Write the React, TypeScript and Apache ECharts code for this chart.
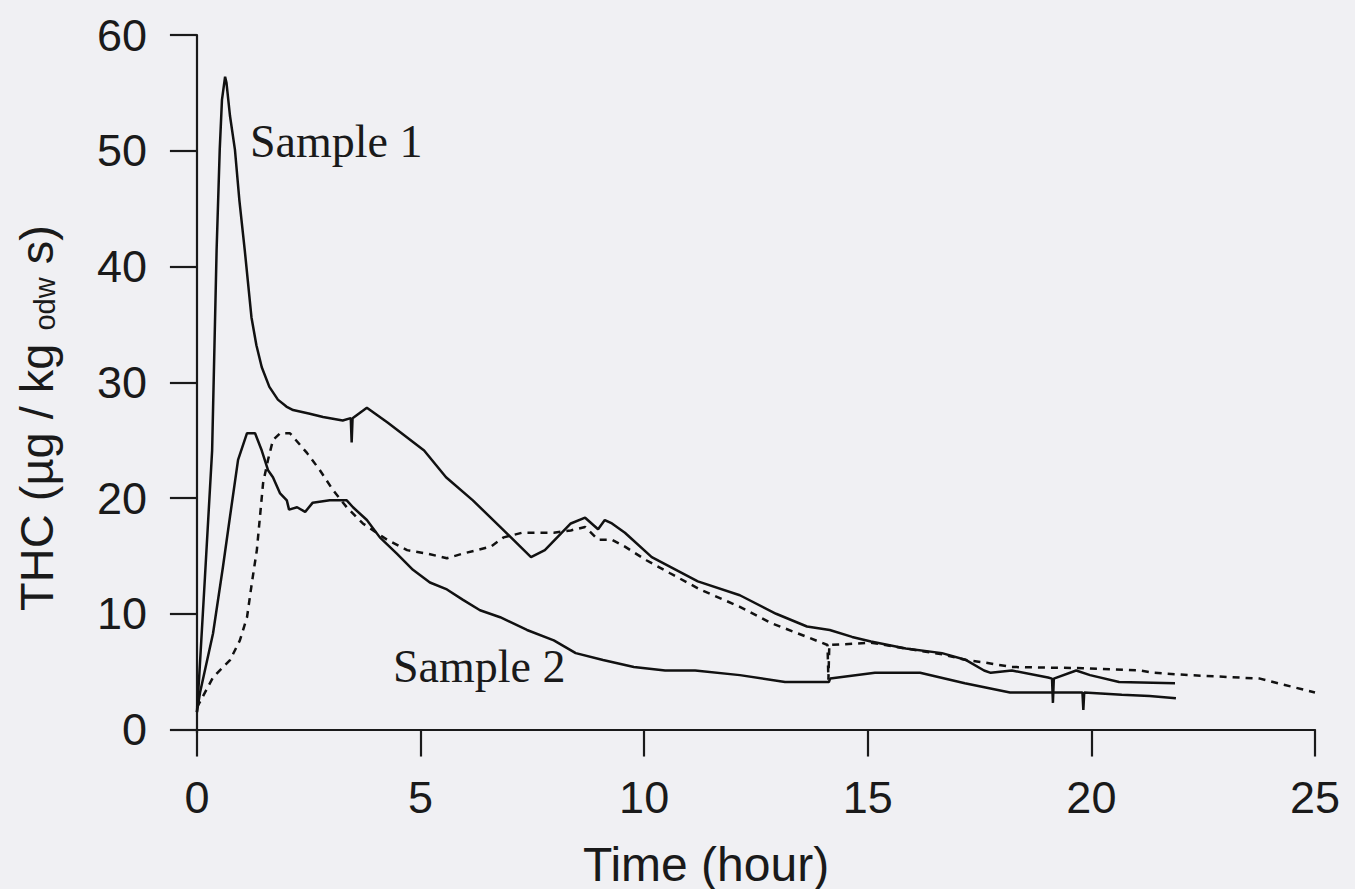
import React, { useEffect, useRef } from "react";
import * as echarts from "echarts";

// ---- Data ----
const xTicks = [0, 5, 10, 15, 20, 25];
const yTicks = [0, 10, 20, 30, 40, 50, 60];

// Sample 1 (solid, upper curve)
const sample1Hours = [
  0, 0.05, 0.18, 0.34, 0.44, 0.51, 0.56, 0.63, 0.66, 0.74, 0.85, 0.95, 1.07, 1.22,
  1.33, 1.45, 1.62, 1.81, 2.0, 2.15, 2.5, 2.82, 3.26, 3.44, 3.46, 3.48, 3.8, 4.27,
  5.08, 5.57, 6.17, 6.78, 7.47, 7.78, 8.36, 8.68, 8.97, 9.12, 9.28, 9.57, 10.17,
  11.2, 12.14, 12.95, 13.64, 14.15, 14.65, 15.07, 15.85, 16.66, 17.2, 17.6, 17.75,
  18.22, 19.03, 19.12, 19.14, 19.16, 19.66, 19.97, 20.62, 21.87,
];
const sample1Thc = [
  1.5, 4.5, 13.2, 24.1, 41.4, 50.1, 54.4, 56.4, 55.9, 53.0, 50.1, 45.7, 41.4, 35.6,
  33.2, 31.3, 29.6, 28.5, 27.9, 27.6, 27.3, 27.0, 26.7, 26.9, 24.8, 26.9, 27.8, 26.5,
  24.1, 21.8, 19.8, 17.5, 14.9, 15.5, 17.8, 18.3, 17.3, 18.1, 17.8, 17.0, 14.9,
  12.8, 11.6, 10.0, 8.9, 8.6, 8.0, 7.6, 7.0, 6.6, 6.0, 5.1, 4.9,
  5.1, 4.5, 4.4, 2.3, 4.4, 5.1, 4.7, 4.1, 4.0,
];

// Sample 2 (solid, lower curve)
const sample2Hours = [
  0, 0.07, 0.36, 0.58, 0.74, 0.92, 1.12, 1.3, 1.45, 1.59, 1.7, 1.86, 2.01, 2.06,
  2.24, 2.42, 2.59, 2.97, 3.35, 3.49, 3.8, 4.09, 4.47, 4.83, 5.21, 5.59, 5.95, 6.33,
  6.78, 7.38, 7.98, 8.47, 9.08, 9.77, 10.47, 11.14, 12.14, 13.15, 14.13, 14.16,
  15.16, 16.17, 17.17, 18.18, 19.07, 19.8, 19.82, 19.84, 20.68, 21.3, 21.89,
];
const sample2Thc = [
  1.5, 3.2, 8.3, 14.0, 18.4, 23.3, 25.6, 25.6, 24.1, 22.4, 21.8, 20.4, 19.8, 19.0,
  19.2, 18.8, 19.6, 19.8, 19.8, 19.2, 18.1, 16.6, 15.2, 13.8, 12.7, 12.1, 11.2, 10.3,
  9.7, 8.6, 7.7, 6.6, 6.0, 5.4, 5.1, 5.1, 4.7, 4.1, 4.1, 4.4,
  4.9, 4.9, 4.0, 3.2, 3.2, 3.2, 1.7, 3.2, 3.0, 2.9, 2.7,
];

// Dashed curve
const dashedHours = [
  0, 0.36, 0.74, 0.96, 1.12, 1.23, 1.34, 1.41, 1.48, 1.59, 1.7, 1.86, 2.08, 2.46,
  2.75, 3.04, 3.35, 3.71, 4.25, 4.7, 5.14, 5.59, 5.95, 6.57, 6.86, 7.27, 7.98, 8.36,
  8.68, 8.97, 9.28, 9.57, 10.06, 10.58, 11.25, 12.14, 12.84, 13.64, 14.1, 14.12,
  14.14, 15.07, 15.85, 16.66, 17.2, 17.6, 18.22, 19.81, 21.09, 21.4, 22.18, 23.77,
  24.17, 25.0,
];
const dashedThc = [
  1.9, 4.5, 6.0, 7.7, 9.7, 12.7, 15.5, 18.4, 21.3, 23.3, 25.0, 25.6, 25.6, 23.9,
  22.4, 20.7, 19.2, 17.8, 16.4, 15.5, 15.2, 14.8, 15.2, 15.8, 16.6, 17.0, 17.0, 17.2,
  17.5, 16.4, 16.4, 15.8, 14.6, 13.5, 12.1, 10.6, 9.2, 8.0, 7.3, 4.3,
  7.3, 7.5, 7.0, 6.5, 6.0, 5.8, 5.4, 5.3, 5.1, 4.9, 4.7, 4.4,
  4.0, 3.2,
];

const zip = (xs: number[], ys: number[]) => xs.map((x, i) => [x, ys[i]]);

const INK = "#1a1a1a";

export default function App() {
  const ref = useRef<HTMLDivElement>(null);

  useEffect(() => {
    if (!ref.current) return;
    const chart = echarts.init(ref.current, null, { renderer: "svg" });

    const axisLineStyle = { color: INK, width: 2.2 };
    const labelStyle = {
      fontSize: 45,
      fontFamily: "Liberation Sans, Arial, sans-serif",
      color: INK,
    };

    chart.setOption({
      animation: false,
      backgroundColor: "#f0f0f3",
      grid: { left: 192, right: 40, top: 35, bottom: 156, containLabel: false },
      xAxis: {
        type: "value",
        min: -0.11,
        max: 25,
        axisLine: { show: true, lineStyle: axisLineStyle },
        axisTick: {
          show: true,
          length: 27,
          lineStyle: axisLineStyle,
          customValues: xTicks,
        },
        axisLabel: { ...labelStyle, margin: 42, customValues: xTicks },
        splitLine: { show: false },
      },
      yAxis: {
        type: "value",
        min: -0.3,
        max: 60,
        axisLine: { show: true, lineStyle: axisLineStyle },
        axisTick: {
          show: true,
          length: 27,
          lineStyle: axisLineStyle,
          customValues: yTicks,
        },
        axisLabel: { ...labelStyle, margin: 45, customValues: yTicks },
        splitLine: { show: false },
      },
      series: [
        {
          name: "Sample 1",
          type: "line",
          data: zip(sample1Hours, sample1Thc),
          showSymbol: false,
          lineStyle: { color: "#111", width: 2.5 },
        },
        {
          name: "Sample 2",
          type: "line",
          data: zip(sample2Hours, sample2Thc),
          showSymbol: false,
          lineStyle: { color: "#111", width: 2.5 },
        },
        {
          name: "Dashed",
          type: "line",
          data: zip(dashedHours, dashedThc),
          showSymbol: false,
          lineStyle: { color: "#111", width: 2.5, type: [7, 6] },
        },
      ],
      graphic: [
        {
          type: "text",
          x: 250,
          y: 141,
          style: {
            text: "Sample 1",
            fontSize: 46,
            fontFamily: "Liberation Serif, Times New Roman, serif",
            fill: INK,
            align: "left",
            verticalAlign: "middle",
          },
        },
        {
          type: "text",
          x: 393,
          y: 666,
          style: {
            text: "Sample 2",
            fontSize: 46,
            fontFamily: "Liberation Serif, Times New Roman, serif",
            fill: INK,
            align: "left",
            verticalAlign: "middle",
          },
        },
        {
          type: "text",
          x: 706,
          y: 864,
          style: {
            text: "Time (hour)",
            fontSize: 48,
            fontFamily: "Liberation Sans, Arial, sans-serif",
            fill: INK,
            align: "center",
            verticalAlign: "middle",
          },
        },
        {
          type: "text",
          x: 36,
          y: 418,
          rotation: Math.PI / 2,
          style: {
            text: "{a|THC (µg / kg }{b|odw}{a| s)}",
            align: "center",
            verticalAlign: "middle",
            rich: {
              a: {
                fontSize: 47,
                fontFamily: "Liberation Sans, Arial, sans-serif",
                fill: INK,
                verticalAlign: "bottom",
              },
              b: {
                fontSize: 29,
                fontFamily: "Liberation Sans, Arial, sans-serif",
                fill: INK,
                verticalAlign: "bottom",
              },
            },
          },
        },
      ],
    });

    return () => chart.dispose();
  }, []);

  return (
    <div
      ref={ref}
      style={{ position: "absolute", left: 0, top: 0, width: 1355, height: 889 }}
    />
  );
}
